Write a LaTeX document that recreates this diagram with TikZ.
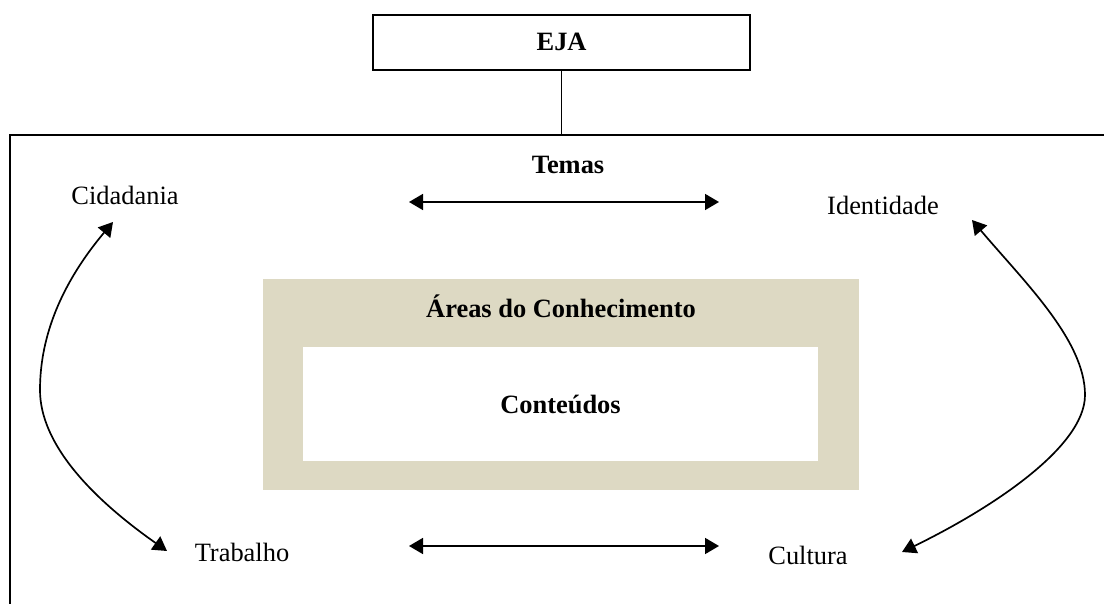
\documentclass[tikz,border=0pt]{standalone}
\usepackage{fontspec}
\setmainfont{Liberation Serif}
\usetikzlibrary{arrows.meta}
\definecolor{areafill}{HTML}{DDD9C3}
\begin{document}
\begin{tikzpicture}
[font=\fontsize{18.8}{22}\selectfont,
 >={Triangle[length=3.5mm,width=4mm]},
 conn/.style={<->,line width=1.2pt}]
\useasboundingbox (0,0) rectangle (27.6,15.1);
% frame and top box
\draw [line width=1.5pt] (0.25,-1) |- (28,11.725);
\path (14.04,14.04) node (eja) [draw,line width=1pt,minimum width=9.425cm,minimum height=1.375cm] {\textbf{EJA}}
(14.04,11.725) coordinate (top);
\draw [line width=1pt] (eja) -- (top);
% areas and contents
\path (14.025,5.4875) node (areas) [fill=areafill,minimum width=14.9cm,minimum height=5.275cm] {}
(14.025,7.45) node (areaslbl) {\textbf{Áreas do Conhecimento}}
(14.0125,5.0) node (cont) [fill=white,minimum width=12.875cm,minimum height=2.85cm] {\textbf{Conteúdos}};
% themes
\path (14.2,10.975) node (temas) {\textbf{Temas}}
(3.125,10.225) node (cid) {Cidadania}
(22.075,9.975) node (ident) {Identidade}
(6.05,1.3) node (trab) {Trabalho}
(20.2,1.225) node (cult) {Cultura};
\path (10.225,10.05) coordinate (tl)
(17.975,10.05) coordinate (tr)
(10.225,1.45) coordinate (bl)
(17.975,1.45) coordinate (br)
(2.825,9.55) coordinate (cidend)
(4.175,1.325) coordinate (trabend)
(24.3,9.6) coordinate (identend)
(22.55,1.3) coordinate (cultend);
\draw [conn] (tl) -- (tr);
\draw [conn] (bl) -- (br);
\draw [conn] (cidend) .. controls (1.54,8.02) and (1.0,6.7) .. (1.0,5.35)
  .. controls (1.0,4.0) and (2.29,2.65) .. (trabend);
\draw [conn] (identend) .. controls (25.59,8.07) and (27.125,6.6) .. (27.125,5.225)
  .. controls (27.125,3.9) and (24.71,2.35) .. (cultend);
\end{tikzpicture}
\end{document}
